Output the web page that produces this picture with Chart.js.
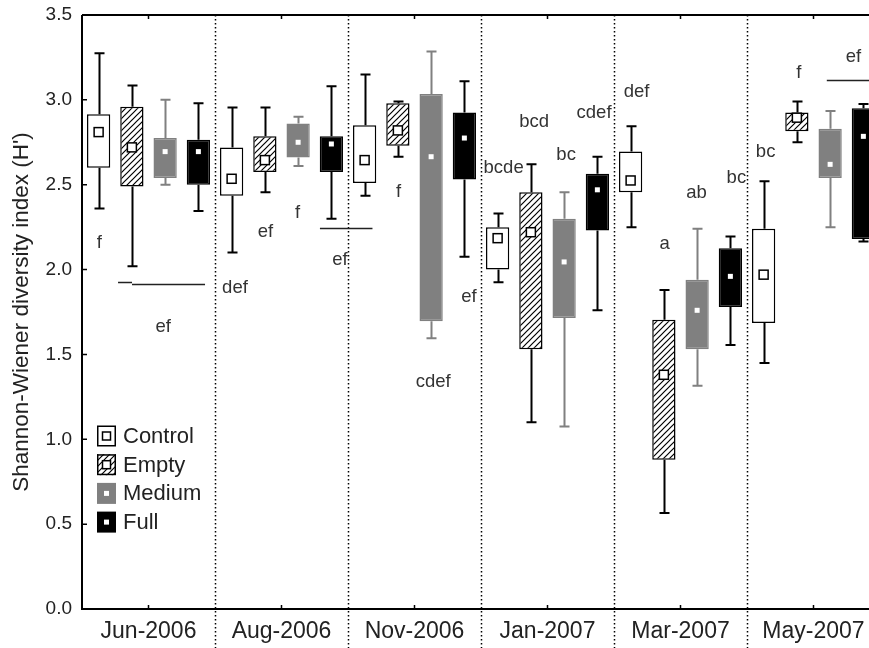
<!DOCTYPE html>
<html>
<head>
<meta charset="utf-8">
<script src="https://cdn.jsdelivr.net/npm/chart.js@4.4.0/dist/chart.umd.min.js"></script>
<style>
    html, body { margin: 0; padding: 0; overflow: hidden; background: #fff; }
    #wrap { width: 890px; height: 648px; }
</style>
</head>
<body>
<div id="wrap"><canvas id="chart" width="890" height="648"></canvas></div>
<script>
const MONTHS     = ['Jun-2006', 'Aug-2006', 'Nov-2006', 'Jan-2007', 'Mar-2007', 'May-2007'];
const TREATMENTS = ['Control', 'Empty', 'Medium', 'Full'];

// each entry: [whisker low, box low, mean, box high, whisker high]
const CONTROL = [
    [2.36, 2.60, 2.81, 2.915, 3.275],
    [2.10, 2.435, 2.535, 2.72, 2.955],
    [2.435, 2.51, 2.645, 2.85, 3.15],
    [1.925, 2.00, 2.185, 2.25, 2.33],
    [2.25, 2.455, 2.525, 2.695, 2.845],
    [1.45, 1.685, 1.97, 2.24, 2.52],
];
const EMPTY = [
    [2.02, 2.49, 2.72, 2.96, 3.085],
    [2.455, 2.575, 2.645, 2.785, 2.955],
    [2.665, 2.73, 2.82, 2.98, 2.99],
    [1.10, 1.53, 2.22, 2.455, 2.62],
    [0.565, 0.88, 1.38, 1.705, 1.88],
    [2.75, 2.815, 2.895, 2.925, 2.99],
];
const MEDIUM = [
    [2.50, 2.54, 2.695, 2.775, 3.00],
    [2.61, 2.66, 2.75, 2.86, 2.90],
    [1.595, 1.695, 2.665, 3.035, 3.285],
    [1.075, 1.715, 2.045, 2.30, 2.455],
    [1.315, 1.53, 1.76, 1.94, 2.24],
    [2.25, 2.54, 2.62, 2.83, 2.935],
];
const FULL = [
    [2.345, 2.50, 2.695, 2.765, 2.98],
    [2.30, 2.575, 2.74, 2.785, 3.08],
    [2.075, 2.53, 2.775, 2.925, 3.11],
    [1.76, 2.23, 2.47, 2.565, 2.665],
    [1.555, 1.78, 1.96, 2.125, 2.195],
    [2.165, 2.18, 2.785, 2.95, 2.975],
];

const Y_MIN  = 0;
const Y_MAX  = 3.5;
const Y_STEP = 0.5;

// significance letters: text, month index, offset inside month (-0.5..0.5), value
const LETTERS       = ['f', 'ef', 'def', 'ef', 'f', 'ef', 'f', 'cdef', 'ef', 'bcde', 'bcd', 'bc', 'cdef', 'def', 'a', 'ab', 'bc', 'bc', 'f', 'ef'];
const LETTER_MONTH  = [0, 0, 1, 1, 1, 1, 2, 2, 2, 3, 3, 3, 3, 4, 4, 4, 4, 5, 5, 5];
const LETTER_OFFSET = [-0.37, 0.11, -0.35, -0.12, 0.12, 0.44, -0.12, 0.14, 0.41, -0.33, -0.10, 0.14, 0.35, -0.33, -0.12, 0.12, 0.42, -0.36, -0.11, 0.30];
const LETTER_VALUE  = [2.157, 1.662, 1.892, 2.222, 2.334, 2.057, 2.457, 1.338, 1.839, 2.599, 2.870, 2.675, 2.923, 3.047, 2.150, 2.451, 2.540, 2.693, 3.158, 3.253];

// grouping lines: [month from, offset from, month to, offset to, value]
const BRACKETS = [
    [0, -0.229, 0, -0.124, 1.925],
    [0, -0.124, 0, 0.425, 1.913],
    [1, 0.289, 2, -0.316, 2.245],
    [5, 0.10, 5, 0.55, 3.117],
];

const SERIES = [CONTROL, EMPTY, MEDIUM, FULL];
const GRAY   = '#808080';
const FONT   = "'Liberation Sans', Arial, sans-serif";
const TEXT   = '#222';

function hatchPattern(ctx) {
    const s = 6;
    const c = document.createElement('canvas');
    c.width = s; c.height = s;
    const g = c.getContext('2d');
    g.fillStyle = '#fff';
    g.fillRect(0, 0, s, s);
    g.strokeStyle = '#000';
    g.lineWidth = 1.2;
    g.beginPath();
    g.moveTo(0, s); g.lineTo(s, 0);
    g.moveTo(-1, 1); g.lineTo(1, -1);
    g.moveTo(s - 1, s + 1); g.lineTo(s + 1, s - 1);
    g.stroke();
    return ctx.createPattern(c, 'repeat');
}

const ctx   = document.getElementById('chart').getContext('2d');
const HATCH = hatchPattern(ctx);

const STYLE = [
    { fill: '#fff', border: '#000', whisker: '#000', meanFill: '#fff', meanBorder: '#000', meanSize: 9 },
    { fill: HATCH,  border: '#000', whisker: '#000', meanFill: '#fff', meanBorder: '#000', meanSize: 9 },
    { fill: GRAY,   border: GRAY,   whisker: GRAY,   meanFill: '#fff', meanBorder: null,   meanSize: 5 },
    { fill: '#000', border: '#000', whisker: '#000', meanFill: '#fff', meanBorder: null,   meanSize: 5 },
];

function monthX(chart, m, off) {
    const xs = chart.scales.x;
    const w  = (xs.right - xs.left) / MONTHS.length;
    return xs.getPixelForValue(m) + off * w;
}

const boxPlugin = {
    id: 'boxExtras',
    beforeDatasetsDraw(chart) {
        const { ctx: c, chartArea: a, scales: { x: xs } } = chart;
        const w = (xs.right - xs.left) / MONTHS.length;
        c.save();
        c.strokeStyle = '#000';
        c.lineWidth = 1.5;
        c.setLineDash([1.5, 2.5]);
        for (let i = 1; i < MONTHS.length; i++) {
            const x = Math.round(xs.getPixelForValue(i) - w / 2) + 0.5;
            c.beginPath();
            c.moveTo(x, a.top);
            c.lineTo(x, chart.height);
            c.stroke();
        }
        c.restore();
    },
    afterDatasetsDraw(chart) {
        const c  = chart.ctx;
        const ys = chart.scales.y;
        c.save();
        SERIES.forEach((series, d) => {
            const meta = chart.getDatasetMeta(d);
            const st   = STYLE[d];
            meta.data.forEach((el, j) => {
                const [lo, q1, mean, q3, hi] = series[j];
                const x   = Math.round(el.x) + 0.5;
                const cap = 5;
                c.strokeStyle = st.whisker;
                c.lineWidth = 2;
                c.beginPath();
                c.moveTo(x, ys.getPixelForValue(q3));
                c.lineTo(x, ys.getPixelForValue(hi));
                c.moveTo(x - cap, ys.getPixelForValue(hi));
                c.lineTo(x + cap, ys.getPixelForValue(hi));
                c.moveTo(x, ys.getPixelForValue(q1));
                c.lineTo(x, ys.getPixelForValue(lo));
                c.moveTo(x - cap, ys.getPixelForValue(lo));
                c.lineTo(x + cap, ys.getPixelForValue(lo));
                c.stroke();

                const my = ys.getPixelForValue(mean);
                const s  = st.meanSize;
                c.fillStyle = st.meanFill;
                c.fillRect(el.x - s / 2, my - s / 2, s, s);
                if (st.meanBorder) {
                    c.strokeStyle = st.meanBorder;
                    c.lineWidth = 1.5;
                    c.strokeRect(el.x - s / 2, my - s / 2, s, s);
                }
            });
        });
        c.restore();
    },
    afterDraw(chart) {
        const { ctx: c, chartArea: a, scales: { x: xs, y: ys } } = chart;
        c.save();

        // frame with inward ticks
        c.strokeStyle = '#000';
        c.lineWidth = 2;
        c.beginPath();
        c.moveTo(a.left, a.top);
        c.lineTo(a.right, a.top);
        c.moveTo(a.left, a.top);
        c.lineTo(a.left, a.bottom);
        c.lineTo(a.right, a.bottom);
        c.lineTo(a.right, a.top);
        c.stroke();
        c.lineWidth = 1.5;
        c.beginPath();
        ys.ticks.forEach(t => {
            const y = ys.getPixelForValue(t.value);
            c.moveTo(a.left, y);
            c.lineTo(a.left + 5, y);
        });
        MONTHS.forEach((m, i) => {
            const x = xs.getPixelForValue(i);
            c.moveTo(x, a.bottom);
            c.lineTo(x, a.bottom - 4);
            c.moveTo(x, a.top);
            c.lineTo(x, a.top + 4);
        });
        c.stroke();

        // significance letters
        c.fillStyle = '#333';
        c.font = `18.5px ${FONT}`;
        c.textAlign = 'center';
        c.textBaseline = 'middle';
        LETTERS.forEach((txt, i) => {
            c.fillText(txt, monthX(chart, LETTER_MONTH[i], LETTER_OFFSET[i]), ys.getPixelForValue(LETTER_VALUE[i]));
        });

        c.strokeStyle = '#222';
        c.lineWidth = 1.5;
        c.beginPath();
        BRACKETS.forEach(([m0, o0, m1, o1, v]) => {
            const y = Math.round(ys.getPixelForValue(v)) + 0.5;
            c.moveTo(monthX(chart, m0, o0), y);
            c.lineTo(monthX(chart, m1, o1), y);
        });
        c.stroke();

        // legend
        const lx = a.left + 15;
        const ly = a.top + 421;
        const bw = 19, bh = 21, gap = 28.7;
        c.font = `22px ${FONT}`;
        c.textAlign = 'left';
        TREATMENTS.forEach((name, i) => {
            const st = STYLE[i];
            const cy = ly + i * gap;
            const top = cy - bh / 2;
            c.fillStyle = st.fill;
            c.fillRect(lx, top, bw, bh);
            if (i < 2) {
                c.strokeStyle = '#000';
                c.lineWidth = 1.5;
                c.strokeRect(lx + 0.75, top + 0.75, bw - 1.5, bh - 1.5);
                c.fillStyle = '#fff';
                c.fillRect(lx + bw / 2 - 4, cy - 4, 8, 8);
                c.strokeRect(lx + bw / 2 - 4, cy - 4, 8, 8);
            } else {
                c.fillStyle = '#fff';
                c.fillRect(lx + bw / 2 - 2.5, cy - 2.5, 5, 5);
            }
            c.fillStyle = TEXT;
            c.fillText(name, lx + bw + 7, cy + 1);
        });
        c.restore();
    },
};

Chart.defaults.font.family = FONT;
Chart.defaults.color = TEXT;

new Chart(ctx, {
    type: 'bar',
    data: {
        labels: MONTHS,
        datasets: SERIES.map((series, d) => ({
            label: TREATMENTS[d],
            data: series.map(v => [v[1], v[3]]),
            backgroundColor: STYLE[d].fill,
            borderColor: STYLE[d].border,
            borderWidth: 1.5,
            borderSkipped: false,
            categoryPercentage: 1.0,
            barPercentage: 0.7,
        })),
    },
    options: {
        responsive: false,
        animation: false,
        layout: { padding: { top: 15, right: 10, left: 0, bottom: 0 } },
        plugins: {
            legend: { display: false },
            tooltip: { enabled: false },
        },
        scales: {
            x: {
                grid: { display: false, drawTicks: false },
                border: { display: false },
                ticks: { font: { size: 23 }, padding: 9, maxRotation: 0, color: TEXT },
                afterFit: (s) => { s.height = 39; s.paddingLeft = 0; s.paddingRight = 0; },
            },
            y: {
                min: Y_MIN,
                max: Y_MAX,
                grid: { display: false, drawTicks: false },
                border: { display: false },
                ticks: {
                    stepSize: Y_STEP,
                    font: { size: 19 },
                    padding: 10,
                    color: TEXT,
                    callback: (v) => v.toFixed(1),
                },
                title: {
                    display: true,
                    text: "Shannon-Wiener diversity index (H')",
                    font: { size: 22.5 },
                    color: TEXT,
                    padding: { top: 8, bottom: 0 },
                },
                afterFit: (s) => { s.width = 82; s.paddingTop = 0; s.paddingBottom = 0; },
            },
        },
    },
    plugins: [boxPlugin],
});
</script>
</body>
</html>
